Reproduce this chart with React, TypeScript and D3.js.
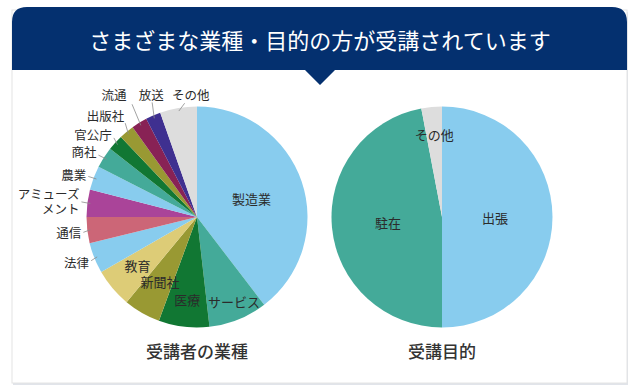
import React from "react";
import * as d3 from "d3";

// 受講者の業種 (share, %)
const industryNames = [
  "製造業", "サービス", "医療", "新聞社", "教育", "法律", "通信",
  "アミューズメント", "農業", "商社", "官公庁", "出版社", "流通", "放送", "その他",
];
const industryShares = [39.6, 8.6, 7.4, 5.4, 5.7, 4.5, 3.8, 4.0, 3.5, 3.1, 2.3, 2.2, 2.3, 2.2, 5.4];
const industryColors = [
  "#88ccee", "#44aa99", "#117733", "#999933", "#ddcc77", "#88ccee", "#cc6677",
  "#aa4499", "#88ccee", "#44aa99", "#117733", "#999933", "#882255", "#3f3090", "#dddddd",
];

// 受講目的 (share, %)
const purposeNames = ["出張", "駐在", "その他"];
const purposeShares = [50, 47, 3];
const purposeColors = ["#88ccee", "#44aa99", "#dddddd"];

const W = 640;
const H = 390;
const R = 110.5;
const FONT = "'Noto Sans CJK JP', 'Noto Sans', sans-serif";

// label placement: inside labels sit at k * R on the mid angle,
// outside ones are nudged from R + 10 and get a leader line
type Lab = { k?: number; dx?: number; dy?: number; anchor?: string; lead?: [number, number]; lines?: string[] };
const industryLayout: Lab[] = [
  { k: 0.52 },
  { k: 0.82, dx: 3 },
  { k: 0.75 },
  { k: 0.67 },
  { k: 0.68, dx: -2 },
  { dx: 4, dy: 0, anchor: "end", lead: [2, -1] },
  { dx: 4, dy: 1, anchor: "end", lead: [2, 0] },
  { dx: 2, dy: -1, anchor: "end", lead: [2, 1], lines: ["アミューズ", "メント"] },
  { dx: 2, dy: 0, anchor: "end", lead: [2, 2] },
  { dx: 1, dy: -1, anchor: "end", lead: [2, 4] },
  { dx: 4, dy: -2, anchor: "end", lead: [2, 4] },
  { dx: 4, dy: -9, anchor: "end", lead: [1, 8] },
  { dx: -20, dy: -20, anchor: "middle", lead: [18, 10] },
  { dx: 2, dy: -12, anchor: "middle", lead: [1, 8] },
  { dx: 14, dy: -4, anchor: "middle", lead: [-6, 9] },
];
const purposeLayout: Lab[] = [{ k: 0.48 }, { k: 0.49 }, { k: 0.75 }];

const polar = (a: number, r: number): [number, number] => [Math.sin(a) * r, -Math.cos(a) * r];

function Pie({ cx, cy, names, values, colors, layout, title }: {
  cx: number; cy: number; names: string[]; values: number[]; colors: string[]; layout: Lab[]; title: string;
}) {
  const arcs = d3.pie<number>().sort(null).value((d) => d)(values);
  const arc = d3.arc<d3.PieArcDatum<number>>().innerRadius(0).outerRadius(R);

  return (
    <g transform={`translate(${cx},${cy})`}>
      {arcs.map((a, i) => (
        <path key={i} d={arc(a) || ""} fill={colors[i]} />
      ))}
      {arcs.map((a, i) => {
        const L = layout[i];
        const mid = (a.startAngle + a.endAngle) / 2;
        const lines = L.lines || [names[i]];
        if (L.k !== undefined) {
          const [x, y] = polar(mid, L.k * R);
          return (
            <text key={i} x={x + (L.dx || 0)} y={y + (L.dy || 0)} textAnchor="middle"
              dominantBaseline="central" fontSize={13} fill="#2b2b2b">
              {names[i]}
            </text>
          );
        }
        const [bx, by] = polar(mid, R + 10);
        const tx = bx + (L.dx || 0);
        const ty = by + (L.dy || 0);
        const [ex, ey] = polar(mid, R - 3);
        const lead = L.lead || [2, 0];
        return (
          <g key={i}>
            <line x1={tx + lead[0]} y1={ty + lead[1]} x2={ex} y2={ey} stroke="#8a8a8a" strokeWidth={0.8} />
            <text textAnchor={L.anchor} dominantBaseline="central" fontSize={12.5} fill="#2b2b2b">
              {lines.map((s, j) => (
                <tspan key={j} x={tx} y={ty + (j - (lines.length - 1) / 2) * 15}>
                  {s}
                </tspan>
              ))}
            </text>
          </g>
        );
      })}
      <text x={0} y={R + 23} textAnchor="middle" dominantBaseline="central" fontSize={17}
        fontWeight={500} fill="#333">
        {title}
      </text>
    </g>
  );
}

export default function App() {
  return (
    <svg width={W} height={H} style={{ position: "fixed", left: 0, top: 0, fontFamily: FONT }}>
      <rect width={W} height={H} fill="#fff" />
      {/* card */}
      <rect x={13} y={12} width={615} height={373} fill="#e1e4ea" />
      <rect x={12} y={10} width={615} height={373} fill="#fff" stroke="#e4e4e4" strokeWidth={1} />
      {/* header */}
      <path d="M12,70 V22 Q12,7 27,7 H612 Q627,7 627,22 V70 H335 L320,85 L305,70 Z" fill="#04306f" />
      <text x={320} y={39} textAnchor="middle" dominantBaseline="central" fontSize={22} fill="#fff">
        さまざまな業種・目的の方が受講されています
      </text>
      <Pie cx={197} cy={217} names={industryNames} values={industryShares} colors={industryColors}
        layout={industryLayout} title="受講者の業種" />
      <Pie cx={442} cy={217} names={purposeNames} values={purposeShares} colors={purposeColors}
        layout={purposeLayout} title="受講目的" />
    </svg>
  );
}
